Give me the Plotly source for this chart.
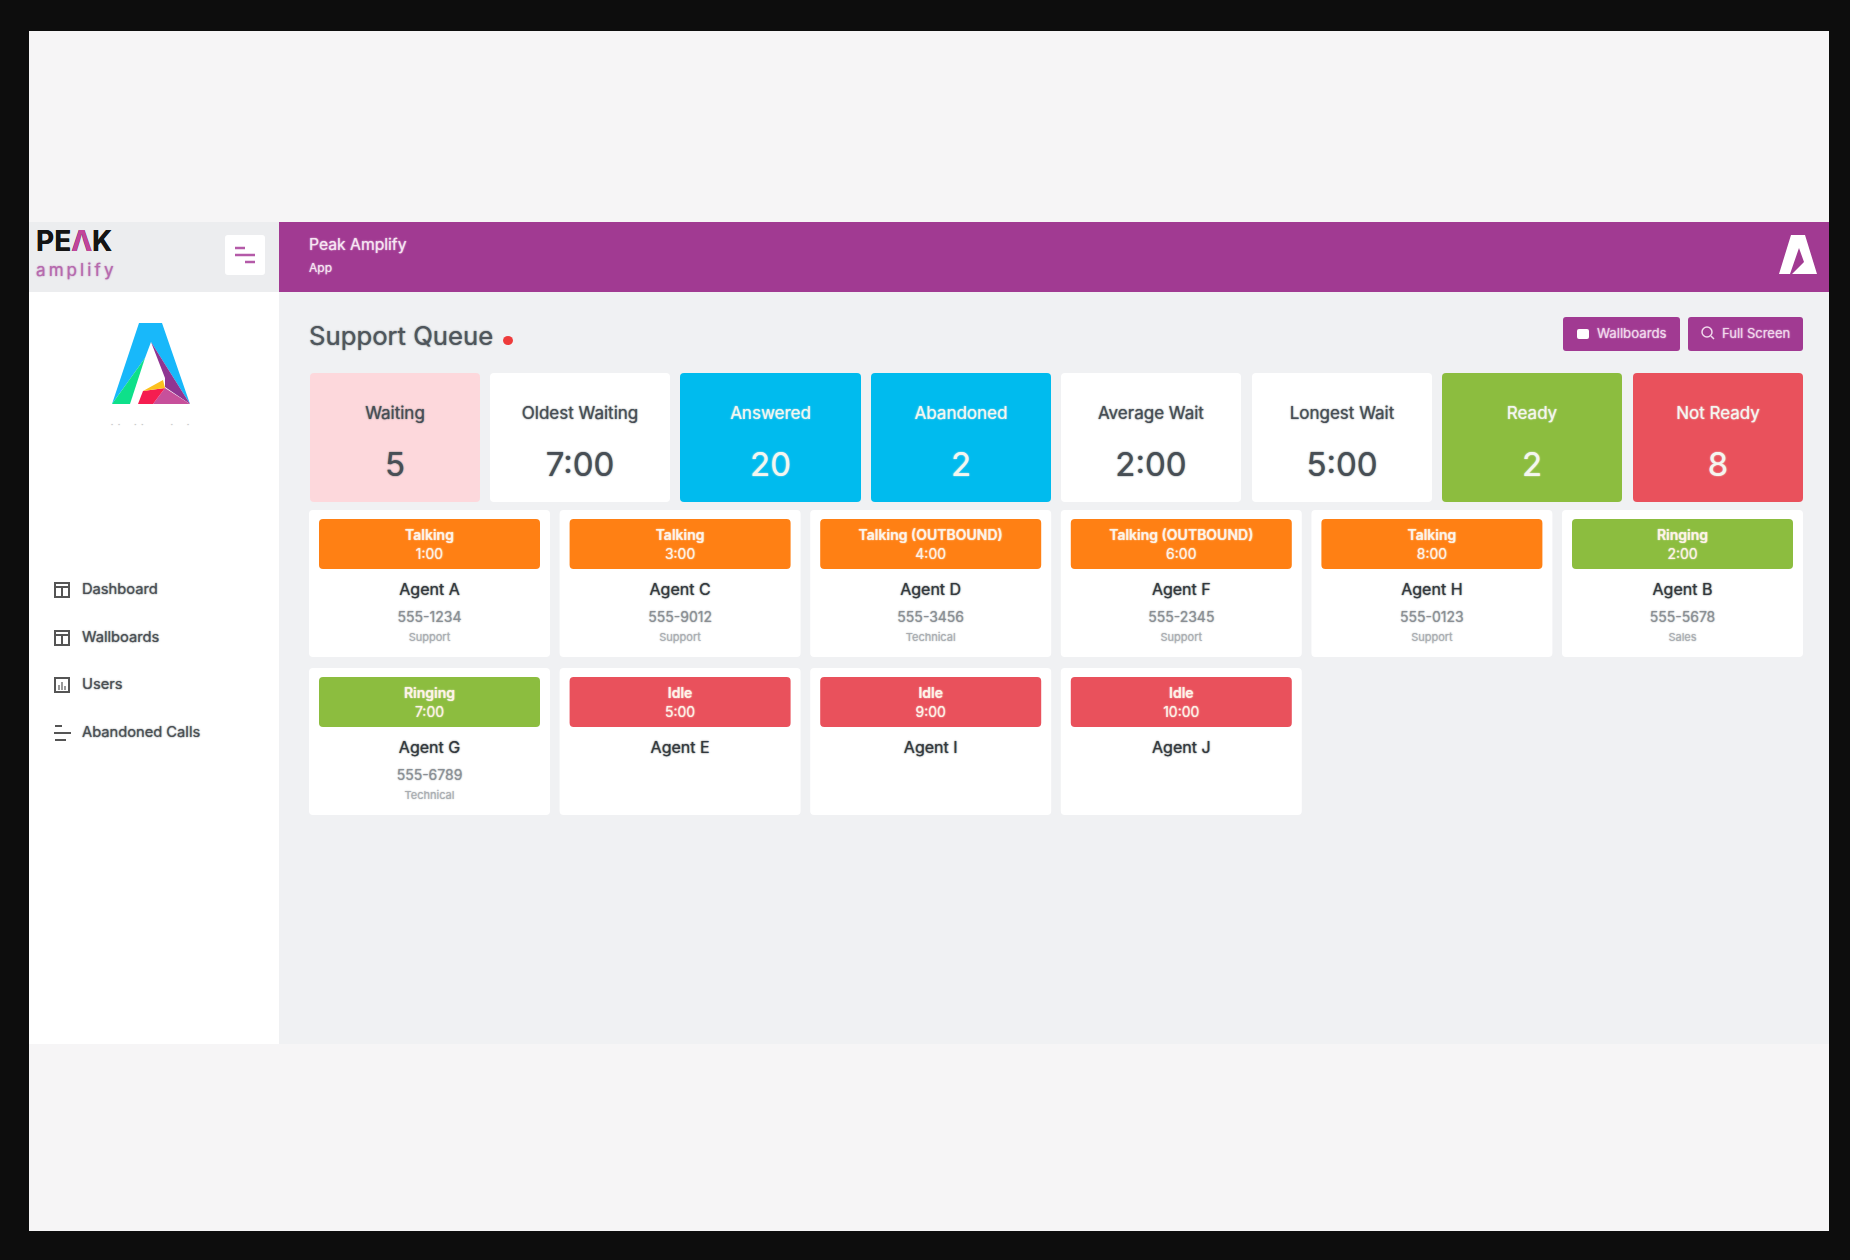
import plotly.graph_objects as go

# Values
kpi_labels = ['Waiting', 'Oldest Waiting', 'Answered', 'Abandoned', 'Average Wait', 'Longest Wait', 'Ready', 'Not Ready']
kpi_values = ['5', '7:00', '20', '2', '2:00', '5:00', '2', '8']
agent_names = ['Agent A', 'Agent C', 'Agent D', 'Agent F', 'Agent H', 'Agent B', 'Agent G', 'Agent E', 'Agent I', 'Agent J']
agent_status = ['Talking', 'Talking', 'Talking (OUTBOUND)', 'Talking (OUTBOUND)', 'Talking', 'Ringing', 'Ringing', 'Idle', 'Idle', 'Idle']
agent_times = ['1:00', '3:00', '4:00', '6:00', '8:00', '2:00', '7:00', '5:00', '9:00', '10:00']
agent_phones = ['555-1234', '555-9012', '555-3456', '555-2345', '555-0123', '555-5678', '555-6789', '', '', '']
agent_depts = ['Support', 'Support', 'Technical', 'Support', 'Support', 'Sales', 'Technical', '', '', '']
nav_items = ['Dashboard', 'Wallboards', 'Users', 'Abandoned Calls']

W, H = 1850, 1260
FONT = 'Inter'
PURPLE = '#a13a92'
ORANGE = '#ff8014'
GREEN = '#8cbd3f'
RED = '#e9515c'
BLUE = '#00bbee'
PINK = '#fdd8dc'
DARK = '#474e55'
WHITE = '#ffffff'

shapes = []


def rect(x0, y0, x1, y1, color, r=0):
    if r:
        path = (f'M{x0+r},{y0} L{x1-r},{y0} Q{x1},{y0} {x1},{y0+r} L{x1},{y1-r} Q{x1},{y1} {x1-r},{y1} '
                f'L{x0+r},{y1} Q{x0},{y1} {x0},{y1-r} L{x0},{y0+r} Q{x0},{y0} {x0+r},{y0} Z')
        shapes.append(dict(type='path', path=path, fillcolor=color, line_width=0, layer='below'))
    else:
        shapes.append(dict(type='rect', x0=x0, y0=y0, x1=x1, y1=y1, fillcolor=color, line_width=0, layer='below'))


def poly(points, color):
    path = 'M' + ' L'.join(f'{x},{y}' for x, y in points) + ' Z'
    shapes.append(dict(type='path', path=path, fillcolor=color, line_width=0, layer='below'))


def line(x0, y0, x1, y1, color, width=2):
    shapes.append(dict(type='line', x0=x0, y0=y0, x1=x1, y1=y1, line=dict(color=color, width=width), layer='below'))


def text_trace(xs, ys, texts, size, color, weight=400, pos='middle center', blur=1.5):
    if isinstance(color, str):
        color = [color] * len(texts)
    shadow = [f'0 0 {blur}px {c}' for c in color]
    return go.Scatter(
        x=xs, y=ys, text=texts, mode='text', textposition=pos, hoverinfo='skip', showlegend=False,
        textfont=dict(family=FONT, size=size, color=color, weight=weight, shadow=shadow),
    )


# page frame
rect(29, 31, 1829, 1231, '#f6f5f6')
rect(279, 292, 1829, 1044, '#f0f1f3')
rect(29, 292, 279, 1044, WHITE)
rect(29, 222, 279, 292, '#ecedef')
rect(279, 222, 1829, 292, PURPLE)

# hamburger button
rect(225, 235, 265, 275, WHITE, 3)
line(235, 248, 245, 248, '#b45aa8', 2.5)
line(235, 255, 255, 255, '#b45aa8', 2.5)
line(245, 262, 255, 262, '#b45aa8', 2.5)

# sidebar logo
poly([(139, 323), (162, 323), (190, 404), (151, 342), (145, 358), (112, 404)], '#18b8fa')
poly([(145, 358), (130, 404), (112, 404)], '#0ee08a')
poly([(151, 342), (190, 404), (165, 387), (165, 378)], '#8f3592')
poly([(153, 404), (165, 388), (190, 404)], '#c7509b')
poly([(138, 404), (143, 391), (165, 388), (153, 404)], '#f51d50')
poly([(143, 391), (163, 380), (165, 388)], '#fcc01e')

# header logo
poly([(1791, 235), (1805, 235), (1817, 274), (1792, 274), (1804, 262), (1799, 248), (1790, 274), (1779, 274)], WHITE)

# nav icons
nav_y = [590, 638, 685, 733]
for y in nav_y[:3]:
    shapes.append(dict(type='rect', x0=55, y0=y-7, x1=69, y1=y+7, line=dict(color='#555', width=2), layer='below'))
for y in nav_y[:2]:
    line(55, y-3, 69, y-3, '#555', 2)
    line(62, y-3, 62, y+7, '#555', 2)
for dx, top in ((59, 0), (62, -3), (65, 1)):
    line(dx, nav_y[2]+top, dx, nav_y[2]+5, '#777', 1.5)
line(55, nav_y[3]-7, 62, nav_y[3]-7, '#555', 2)
line(54, nav_y[3], 71, nav_y[3], '#555', 2)
line(55, nav_y[3]+7, 66, nav_y[3]+7, '#555', 2)

# title dot and buttons
shapes.append(dict(type='circle', x0=503, y0=336, x1=513, y1=345, fillcolor='#ee3b3b', line_width=0, layer='below'))
rect(1563, 317, 1680, 351, PURPLE, 3)
rect(1688, 317, 1803, 351, PURPLE, 3)
rect(1577, 329, 1589, 339, WHITE, 2)
shapes.append(dict(type='circle', x0=1702, y0=327, x1=1712, y1=337, line=dict(color='#f0d8ec', width=1.5), layer='below'))
line(1711, 336, 1714, 339, '#f0d8ec', 1.5)

# kpi tiles
kpi_left = [310, 490, 680, 871, 1061, 1252, 1442, 1633]
kpi_right = [480, 670, 861, 1051, 1241, 1432, 1622, 1803]
kpi_fill = [PINK, WHITE, BLUE, BLUE, WHITE, WHITE, GREEN, RED]
kpi_x = []
kpi_col = []
for left, right, fill in zip(kpi_left, kpi_right, kpi_fill):
    rect(left, 373, right, 502, fill, 4)
    kpi_x.append((left + right) / 2)
    kpi_col.append(DARK if fill in (PINK, WHITE) else '#f4f6f0')

# agent cards
status_fill = {'Talking': ORANGE, 'Talking (OUTBOUND)': ORANGE, 'Ringing': GREEN, 'Idle': RED}
agent_x, agent_y = [], []
for i, status in enumerate(agent_status):
    col, row = i % 6, i // 6
    left = 309 + col * 250.6
    top = 510 + row * 158
    rect(left, top, left + 241, top + 147, WHITE, 4)
    rect(left + 10, top + 9, left + 231, top + 59, status_fill[status], 4)
    agent_x.append(left + 120.5)
    agent_y.append(top)

traces = [
    text_trace(kpi_x, [415] * 8, kpi_labels, 17, kpi_col, 400),
    text_trace(kpi_x, [468] * 8, kpi_values, 33, kpi_col, 400),
    text_trace(agent_x, [y + 26 for y in agent_y], agent_status, 14, '#fdf3e8', 600),
    text_trace(agent_x, [y + 45 for y in agent_y], agent_times, 14, '#fdf3e8', 400),
    text_trace(agent_x, [y + 81 for y in agent_y], agent_names, 16, '#33383d', 400),
    text_trace(agent_x, [y + 108 for y in agent_y], agent_phones, 14, '#8a8f94', 400),
    text_trace(agent_x, [y + 128 for y in agent_y], agent_depts, 11, '#a9adb1', 400),
    text_trace([82] * 4, nav_y, nav_items, 14.7, '#4a4f54', 400, pos='middle right'),
    text_trace([309], [339], ['Support Queue'], 25.7, '#4f565c', 400, pos='middle right'),
    text_trace([309], [246], ['Peak Amplify'], 15.7, '#f6e6f3', 400, pos='middle right'),
    text_trace([309], [269], ['App'], 12, '#f6e6f3', 400, pos='middle right'),
    text_trace([1597], [335], ['Wallboards'], 13.2, '#f0d8ec', 400, pos='middle right'),
    text_trace([1722], [335], ['Full Screen'], 13, '#f0d8ec', 400, pos='middle right'),
    text_trace([36], [244], ['PE<span style="color:#c2459b">Λ</span>K'], 28, '#151515', 700, pos='middle right', blur=0.6),
    text_trace([36], [272], ['a\u2009m\u2009p\u2009l\u2009i\u2009f\u2009y'], 17, '#b66aae', 400, pos='middle right'),
    text_trace([150], [426], ['·\u2002·\u2003\u2002·\u2002·\u2003\u2003\u2003·\u2003\u2002·'], 9, '#c4c4c4', 400),
]

fig = go.Figure(traces)
fig.update_layout(
    width=W, height=H, margin=dict(l=0, r=0, t=0, b=0),
    paper_bgcolor='#0d0d0d', plot_bgcolor='#0d0d0d', showlegend=False, shapes=shapes,
    xaxis=dict(range=[0, W], visible=False, fixedrange=True),
    yaxis=dict(range=[H, 0], visible=False, fixedrange=True),
)
fig.write_html('out.html', config={'displayModeBar': False},
               post_script="document.body.style.margin='0';document.body.style.background='#0d0d0d';")
